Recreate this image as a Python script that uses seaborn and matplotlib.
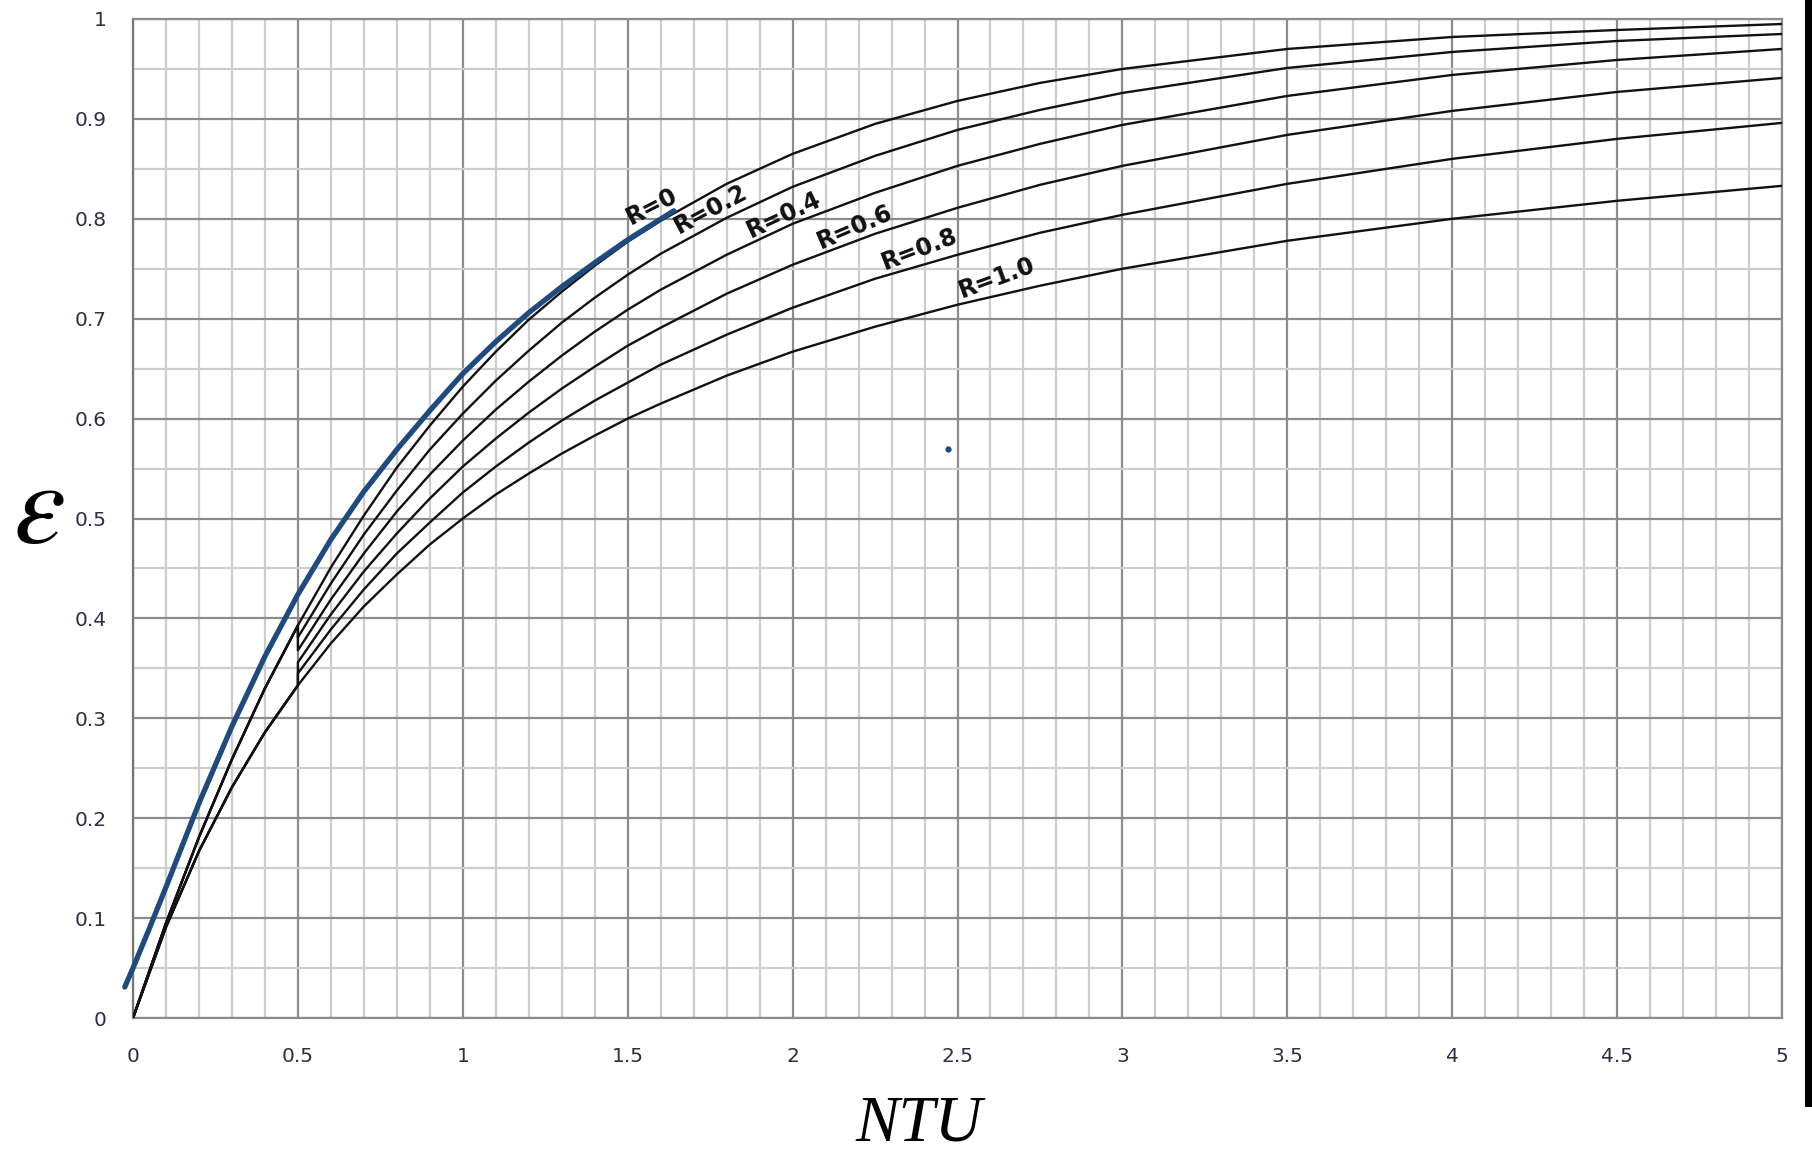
import numpy as np
import pandas as pd
import matplotlib
matplotlib.use("Agg")
import matplotlib.pyplot as plt
from matplotlib.ticker import MultipleLocator
from matplotlib.patches import Rectangle
import seaborn as sns

# ---------------- data ----------------
ntu = [0, 0.1, 0.2, 0.3, 0.4, 0.5, 0.5, 0.6, 0.7, 0.8, 0.9, 1.0, 1.1, 1.2, 1.3,
       1.4, 1.5, 1.6, 1.8, 2.0, 2.25, 2.5, 2.75, 3.0, 3.5, 4.0, 4.5, 5.0]

eps_r00 = [0, 0.095, 0.181, 0.259, 0.330, 0.393, 0.393, 0.451, 0.503, 0.551, 0.593,
           0.632, 0.667, 0.699, 0.727, 0.753, 0.777, 0.798, 0.835, 0.865, 0.895,
           0.918, 0.936, 0.950, 0.970, 0.982, 0.989, 0.995]
eps_r02 = [0, 0.095, 0.181, 0.259, 0.330, 0.393, 0.381, 0.435, 0.484, 0.528, 0.569,
           0.605, 0.638, 0.668, 0.696, 0.721, 0.744, 0.765, 0.801, 0.832, 0.863,
           0.889, 0.909, 0.926, 0.951, 0.967, 0.978, 0.985]
eps_r04 = [0, 0.095, 0.181, 0.259, 0.330, 0.393, 0.368, 0.419, 0.465, 0.507, 0.544,
           0.578, 0.609, 0.637, 0.663, 0.687, 0.709, 0.729, 0.764, 0.795, 0.826,
           0.853, 0.875, 0.894, 0.923, 0.944, 0.959, 0.970]
eps_r06 = [0, 0.091, 0.167, 0.231, 0.286, 0.333, 0.356, 0.404, 0.447, 0.485, 0.520,
           0.552, 0.580, 0.606, 0.630, 0.652, 0.673, 0.691, 0.725, 0.754, 0.785,
           0.811, 0.834, 0.853, 0.884, 0.908, 0.927, 0.941]
eps_r08 = [0, 0.091, 0.167, 0.231, 0.286, 0.333, 0.345, 0.389, 0.429, 0.465, 0.496,
           0.526, 0.552, 0.576, 0.598, 0.618, 0.636, 0.654, 0.684, 0.711, 0.740,
           0.764, 0.786, 0.804, 0.835, 0.860, 0.880, 0.896]
eps_r10 = [0, 0.091, 0.167, 0.231, 0.286, 0.333, 0.333, 0.375, 0.412, 0.444, 0.474,
           0.500, 0.524, 0.545, 0.565, 0.583, 0.600, 0.615, 0.643, 0.667, 0.692,
           0.714, 0.733, 0.750, 0.778, 0.800, 0.818, 0.833]

series_names = ["R=0", "R=0.2", "R=0.4", "R=0.6", "R=0.8", "R=1.0"]
series_vals = [eps_r00, eps_r02, eps_r04, eps_r06, eps_r08, eps_r10]

# hand-drawn blue curve
blue_ntu = [-0.025, 0.0, 0.05, 0.1, 0.2, 0.3, 0.4, 0.5, 0.6, 0.7, 0.8, 0.9, 1.0,
            1.1, 1.2, 1.3, 1.4, 1.5, 1.64]
blue_eps = [0.031, 0.050, 0.090, 0.131, 0.215, 0.292, 0.362, 0.424, 0.479, 0.527,
            0.569, 0.608, 0.645, 0.677, 0.706, 0.732, 0.756, 0.779, 0.808]

# stray dot
dot_ntu = [2.471]
dot_eps = [0.570]

# curve labels
label_text = ["R=0", "R=0.2", "R=0.4", "R=0.6", "R=0.8", "R=1.0"]
label_x = [1.573, 1.752, 1.974, 2.189, 2.386, 2.620]
label_y = [0.812, 0.810, 0.804, 0.792, 0.770, 0.741]
label_rot = [27, 28, 25, 23, 21, 20]

x_ticks = [0, 0.5, 1, 1.5, 2, 2.5, 3, 3.5, 4, 4.5, 5]
x_ticklabels = ["0", "0.5", "1", "1.5", "2", "2.5", "3", "3.5", "4", "4.5", "5"]
y_ticks = [0, 0.1, 0.2, 0.3, 0.4, 0.5, 0.6, 0.7, 0.8, 0.9, 1.0]
y_ticklabels = ["0", "0.1", "0.2", "0.3", "0.4", "0.5", "0.6", "0.7", "0.8", "0.9", "1"]

# ---------------- drawing ----------------
sns.set_style("white")
plt.rcParams["font.family"] = ["DejaVu Sans"]
plt.rcParams["mathtext.fontset"] = "stix"

fig = plt.figure(figsize=(18.12, 11.53), dpi=100)
ax = fig.add_axes([133 / 1812, 1 - 1018 / 1153, (1782 - 133) / 1812, (1018 - 19) / 1153])

rows = []
for name, vals in zip(series_names, series_vals):
    for i, (x, y) in enumerate(zip(ntu, vals)):
        rows.append({"NTU": x, "eps": y, "R": name, "order": i})
df = pd.DataFrame(rows)

for name in series_names:
    sub = df[df["R"] == name]
    sns.lineplot(data=sub, x="NTU", y="eps", sort=False, estimator=None,
                 color="#111111", lw=1.7, ax=ax, zorder=3)

sns.lineplot(x=blue_ntu, y=blue_eps, sort=False, estimator=None, color="#1f4a7d",
             lw=3.8, ax=ax, zorder=4, clip_on=False)
ax.plot(dot_ntu, dot_eps, "o", color="#1f4a7d", ms=3.5, zorder=4)

for t, x, y, r in zip(label_text, label_x, label_y, label_rot):
    ax.text(x, y, t, rotation=r, rotation_mode="anchor", ha="center", va="center",
            fontsize=17, fontweight="bold", color="#111111", zorder=5)

ax.set_xlim(0, 5)
ax.set_ylim(0, 1)
ax.set_xticks(x_ticks)
ax.set_xticklabels(x_ticklabels)
ax.set_yticks(y_ticks)
ax.set_yticklabels(y_ticklabels)
ax.xaxis.set_minor_locator(MultipleLocator(0.1))
ax.yaxis.set_minor_locator(MultipleLocator(0.05))
ax.set_axisbelow(True)
ax.grid(which="minor", color="#cdcdcd", lw=1.6)
ax.grid(which="major", color="#8c8c8c", lw=1.6)
ax.tick_params(which="minor", length=0)
ax.tick_params(which="major", length=8, width=1.5, color="#8c8c8c",
               labelsize=14.5, labelcolor="#2e2e44")
ax.tick_params(axis="y", pad=11)
ax.tick_params(axis="x", pad=13)
for s in ax.spines.values():
    s.set_visible(True)
    s.set_color("#8c8c8c")
    s.set_linewidth(1.6)
ax.spines["left"].set_color("#777777")
ax.set_xlabel("")
ax.set_ylabel("")

fig.text(39 / 1812, 1 - 511 / 1153, r"$\varepsilon$", fontsize=84,
         ha="center", va="center", color="black")
fig.text(919 / 1812, 1 - 1125 / 1153, "NTU", fontsize=47, fontstyle="italic",
         family=["Liberation Serif"], ha="center", va="center", color="black")

fig.patches.append(Rectangle((1805 / 1812, 1 - 1107 / 1153), 7 / 1812, 1107 / 1153,
                             transform=fig.transFigure, facecolor="black",
                             edgecolor="none"))

fig.savefig("out.png", dpi=100, facecolor="white")
